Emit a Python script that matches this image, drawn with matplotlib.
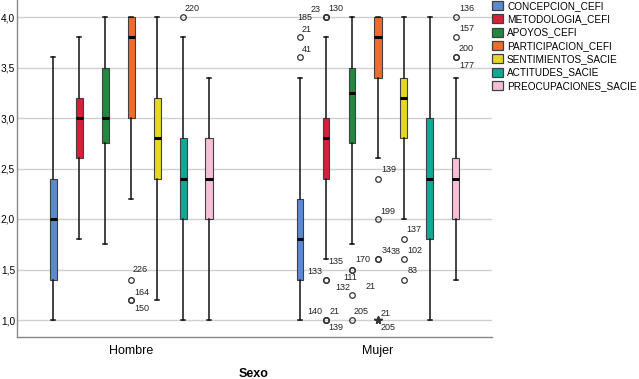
import matplotlib
matplotlib.use("Agg")
import matplotlib.pyplot as plt
from matplotlib.patches import Patch

plt.rcParams['font.family'] = ['Liberation Sans', 'DejaVu Sans']

sexos = ["Hombre", "Mujer"]
variables = ["CONCEPCION_CEFI", "METODOLOGIA_CEFI", "APOYOS_CEFI", "PARTICIPACION_CEFI",
             "SENTIMIENTOS_SACIE", "ACTITUDES_SACIE", "PREOCUPACIONES_SACIE"]
colores = ["#5a8bd0", "#d81f3a", "#24873f", "#f26b2a", "#e4d920", "#12a896", "#f6bfd7"]

# cinco numeros de cada caja: bigote inferior, Q1, mediana, Q3, bigote superior
hombre_whislo = [1.0, 1.8, 1.75, 2.2, 1.2, 1.0, 1.0]
hombre_q1     = [1.4, 2.6, 2.75, 3.0, 2.4, 2.0, 2.0]
hombre_med    = [2.0, 3.0, 3.0, 3.8, 2.8, 2.4, 2.4]
hombre_q3     = [2.4, 3.2, 3.5, 4.0, 3.2, 2.8, 2.8]
hombre_whishi = [3.6, 3.8, 4.0, 4.0, 4.0, 3.8, 3.4]

mujer_whislo = [1.0, 1.6, 1.75, 2.6, 2.0, 1.0, 1.4]
mujer_q1     = [1.4, 2.4, 2.75, 3.4, 2.8, 1.8, 2.0]
mujer_med    = [1.8, 2.8, 3.25, 3.8, 3.2, 2.4, 2.4]
mujer_q3     = [2.2, 3.0, 3.5, 4.0, 3.4, 3.0, 2.6]
mujer_whishi = [3.4, 3.8, 4.0, 4.0, 4.0, 4.0, 3.4]

# casos atipicos: (sexo, variable, valor, caso, marcador)
atipicos = [
    (0, 5, 4.0, "220", "o"),
    (0, 3, 1.4, "226", "o"),
    (0, 3, 1.2, "164", "o"),
    (0, 3, 1.2, "150", "o"),
    (1, 0, 3.8, "21", "o"),
    (1, 0, 3.6, "41", "o"),
    (1, 1, 4.0, "23", "o"),
    (1, 1, 4.0, "130", "o"),
    (1, 1, 4.0, "185", "o"),
    (1, 1, 1.6, "135", ""),
    (1, 1, 1.4, "133", "o"),
    (1, 1, 1.4, "132", "o"),
    (1, 1, 1.0, "140", "o"),
    (1, 1, 1.0, "21", "o"),
    (1, 1, 1.0, "139", "o"),
    (1, 2, 1.5, "170", "o"),
    (1, 2, 1.5, "111", "o"),
    (1, 2, 1.25, "21", "o"),
    (1, 2, 1.0, "205", "o"),
    (1, 3, 2.4, "139", "o"),
    (1, 3, 2.0, "199", "o"),
    (1, 3, 1.6, "34", "o"),
    (1, 3, 1.6, "38", "o"),
    (1, 3, 1.0, "21", "*"),
    (1, 3, 1.0, "205", "*"),
    (1, 4, 1.8, "137", "o"),
    (1, 4, 1.6, "102", "o"),
    (1, 4, 1.4, "83", "o"),
    (1, 6, 4.0, "136", "o"),
    (1, 6, 3.8, "157", "o"),
    (1, 6, 3.6, "200", "o"),
    (1, 6, 3.6, "177", "o"),
]
# desplazamiento de cada etiqueta (pixeles) y alineacion, en el mismo orden
desplaz = [
    (2, 9, "left"), (2, 10, "left"), (3, 7, "left"), (3, -9, "left"),
    (2, 8, "left"), (2, 8, "left"),
    (-5, 8, "right"), (2, 9, "left"), (-14, 0, "right"),
    (2, -2, "left"), (-4, 8, "right"), (9, -8, "left"),
    (-4, 8, "right"), (4, 8, "left"), (2, -8, "left"),
    (3, 10, "left"), (-9, -8, "left"), (14, 8, "left"), (2, 9, "left"),
    (3, 9, "left"), (2, 8, "left"), (4, 9, "left"), (13, 8, "left"),
    (3, 7, "left"), (3, -8, "left"),
    (2, 10, "left"), (3, 9, "left"), (4, 9, "left"),
    (3, 9, "left"), (3, 9, "left"), (3, 9, "left"), (3, -8, "left"),
]

yticks = [1.0, 1.5, 2.0, 2.5, 3.0, 3.5, 4.0]
ytick_labels = ["1,0", "1,5", "2,0", "2,5", "3,0", "3,5", "4,0"]

paso = 26 / 247.0
ancho = 7 / 247.0


def posicion(s, v):
    return s + (v - 3) * paso


fig = plt.figure(figsize=(6.39, 3.79), dpi=100)
ax = fig.add_axes([17 / 639, 1 - 337 / 379, 475 / 639, 337 / 379])

datos = [
    (hombre_whislo, hombre_q1, hombre_med, hombre_q3, hombre_whishi),
    (mujer_whislo, mujer_q1, mujer_med, mujer_q3, mujer_whishi),
]

for s, (lo, q1, med, q3, hi) in enumerate(datos):
    stats = []
    pos = []
    for v in range(len(variables)):
        stats.append({"whislo": lo[v], "q1": q1[v], "med": med[v], "q3": q3[v],
                      "whishi": hi[v], "fliers": []})
        pos.append(posicion(s, v))
    bp = ax.bxp(stats, positions=pos, widths=ancho, patch_artist=True, showfliers=False,
                boxprops=dict(edgecolor="#404040", linewidth=0.8),
                whiskerprops=dict(color="#111111", linewidth=1.1),
                capprops=dict(color="#111111", linewidth=1.1),
                medianprops=dict(color="black", linewidth=2.2),
                capwidths=ancho * 0.6, manage_ticks=False, zorder=3)
    for caja, c in zip(bp["boxes"], colores):
        caja.set_facecolor(c)

for (s, v, val, caso, m), (dx, dy, ha) in zip(atipicos, desplaz):
    x = posicion(s, v)
    if m == "o":
        ax.plot(x, val, marker="o", ms=4, mfc="none", mec="#333333", mew=0.9, zorder=4)
    elif m == "*":
        ax.plot(x, val, marker="*", ms=5.5, color="#333333", zorder=4)
    ax.annotate(caso, (x, val), xytext=(dx, dy), textcoords="offset pixels",
                ha=ha, va="center", fontsize=6.5, color="#222222", zorder=5)

ax.set_xlim(-(131 - 17) / 247.0, 1 + (492 - 378) / 247.0)
ax.set_ylim(1 - 17 / 101.0, 4 + 17 / 101.0)
ax.set_xticks([0, 1])
ax.set_xticklabels(sexos, fontsize=9)
ax.set_yticks(yticks)
ax.set_yticklabels(ytick_labels, fontsize=7.3)
ax.tick_params(axis="both", length=0)
ax.tick_params(axis="y", pad=1.5)
ax.tick_params(axis="x", pad=6)
ax.yaxis.grid(True, color="#d0d0d0", linewidth=1)
ax.set_axisbelow(True)
for lado in ["top", "right"]:
    ax.spines[lado].set_visible(False)
for lado in ["left", "bottom"]:
    ax.spines[lado].set_color("#888888")
    ax.spines[lado].set_linewidth(1)

fig.text(254 / 639, 1 - 374 / 379, "Sexo", ha="center", va="center",
         fontsize=9, fontweight="bold")

handles = [Patch(facecolor=c, edgecolor="#404040", linewidth=0.9) for c in colores]
fig.legend(handles, variables, loc="upper left", bbox_to_anchor=(491 / 639, 1.0),
           frameon=False, fontsize=7.2, handlelength=1.1, handleheight=1.0,
           handletextpad=0.4, labelspacing=0.33, borderpad=0.1, borderaxespad=0)

fig.savefig("out.png", dpi=100)
